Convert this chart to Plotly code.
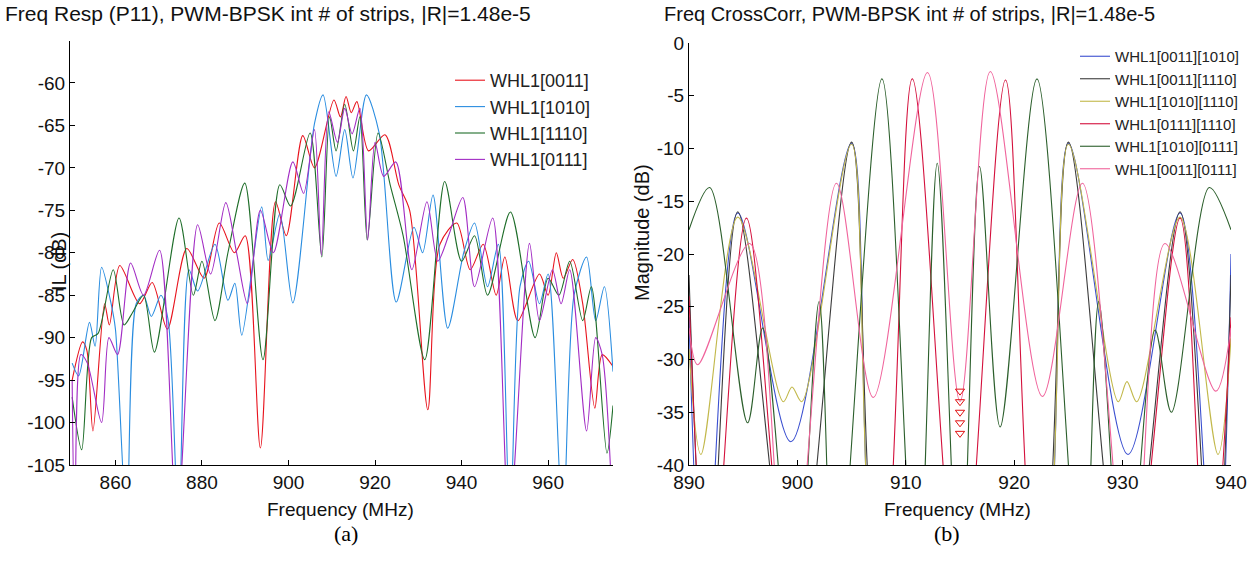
import plotly.graph_objects as go

W, H = 1257, 565

# ---------------- (a) frequency response, dB vs MHz ----------------
red_f = [850, 852.4, 853.4, 854.8, 857.5, 858.6, 861, 865.6, 868.5, 872, 876.5, 880.5, 884, 887.5, 890,
         893.5, 897, 899.5, 903.3, 906, 910.5, 912, 913.3, 914.5, 915.8, 918.5, 922.3, 925.5, 928, 932.2,
         935, 938.9, 942, 945, 948, 950, 953, 958, 960, 961.9, 963.5, 965.7, 968, 970.8, 972.5, 975]
red_db = [-95, -90.5, -91.5, -101, -86, -88.5, -81.5, -86, -83.5, -89, -79.5, -83, -76.5, -80, -78,
          -103, -74, -78, -66.2, -70, -62, -64, -61.6, -63.5, -62.2, -68, -66.1, -72, -75, -98.5,
          -79, -76.5, -82, -79, -85, -80.5, -88, -82.5, -85, -80, -83, -80.8, -86, -98.3, -92, -93.4]

blue_f = [850, 851.5, 854, 855.3, 856.8, 859, 860, 862.6, 864.8, 866.5, 868.3, 870.5, 872.2, 874.6, 877,
          879, 883, 886, 887.6, 889.2, 893.8, 895.3, 898, 901, 906, 908, 911, 913, 914.9, 918, 921,
          924.9, 929, 931, 933.4, 936.8, 940.5, 943, 946, 948.5, 951.2, 953.5, 955.5, 958, 960, 963.4,
          966, 968.9, 971, 973, 975]
blue_db = [-93, -94.5, -88.2, -91, -81.7, -86, -89, -112, -86, -85, -87.5, -85, -88, -112, -82,
           -84.5, -79, -85.6, -83.6, -89.7, -74.6, -80.9, -75.4, -85.9, -64.8, -61.4, -71, -65.5, -71.2, -61.4, -66,
           -85.8, -77, -80, -73.2, -88.9, -80, -76.5, -84, -79, -112, -84, -81, -86, -82.5, -112,
           -85, -80.5, -88, -84, -94]

green_f = [850, 852.2, 854.5, 856, 859.5, 862, 864, 866.5, 869, 874.7, 878, 880, 883, 886, 889.9, 894.1,
           898, 900.5, 905, 907.7, 909.5, 911, 913, 915, 916.5, 918.2, 920.7, 923.5, 926.5, 931.5, 936.1,
           940, 943, 946, 951.3, 957, 960, 962.5, 965, 968, 970, 973.6, 975]
green_db = [-97, -103.2, -90, -89.5, -82, -88.5, -87, -85, -91.7, -75.9, -85, -81, -88, -80, -71.8, -92.6,
            -72, -74.5, -65.9, -80.5, -64, -68, -62.5, -68, -64, -78.5, -65.9, -72, -78, -92.6, -71.6,
            -81, -78, -85, -75.2, -90, -83, -85, -81, -88, -84, -103.6, -98]

purple_f = [850, 850.6, 852, 853.5, 856.8, 858.5, 860.5, 863.5, 866.5, 870.2, 874.2, 879, 882, 885.5, 888,
            890.5, 893.5, 896.5, 901, 903.5, 906, 907.6, 909.3, 911.3, 913, 914.7, 916.5, 918.3, 920, 922,
            924.8, 928.5, 932, 934.5, 937, 940.3, 943, 947.2, 951, 955.7, 958, 961, 963, 965, 968.9, 971,
            972.5, 975]
purple_db = [-95, -112, -92, -93, -100, -90, -92, -81.2, -85, -79.7, -112, -76.7, -82.5, -74.1, -80,
             -86, -75, -80, -69.3, -73, -65.5, -80.3, -63.4, -67, -63, -66, -63, -78.5, -67, -71,
             -69.3, -82, -74, -81, -78, -73.5, -84, -75.9, -112, -78.9, -88, -82, -86, -82, -101, -90,
             -92, -112]

a_names = ["WHL1[0011]", "WHL1[1010]", "WHL1[1110]", "WHL1[0111]"]
a_cols = ["#e8141e", "#2a8de0", "#1f6e2a", "#a22cc4"]
a_ticks = [-105, -100, -95, -90, -85, -80, -75, -70, -65, -60]
a_xticks = [860, 880, 900, 920, 940, 960]

# ---------------- (b) cross-correlation ----------------
b1_f = [890, 891.4, 894.5, 899.4, 905.0, 908.0, 915.0, 922.0, 925.0, 930.5, 935.3, 938.6, 940]
b1_db = [-26, -55, -16.1, -37.8, -9.5, -55, -42, -55, -9.5, -39, -16.1, -55, -20]

b2_f = [890, 891.7, 894.5, 899.7, 905.0, 908.3, 915.0, 921.7, 925.0, 930.3, 935.3, 938.4, 940]
b2_db = [-22, -55, -16.0, -55, -9.4, -55, -42, -55, -9.4, -55, -16.0, -55, -22]

b3_f = [890, 891.1, 894.5, 898.7, 899.5, 900.4, 905.0, 908.2, 915.0, 921.8, 925.0, 929.6, 930.4, 931.3,
        935.3, 938.8, 940]
b3_db = [-29, -39, -16.5, -34, -32.6, -34, -9.6, -55, -45, -55, -9.6, -34, -32.1, -34, -16.5, -39, -28]

b4_f = [890, 891.9, 895.3, 899.6, 903.0, 907.3, 910.6, 915.0, 919.2, 922.6, 927.0, 930.4, 935.3, 937.9, 940]
b4_db = [-24, -55, -16.6, -55, -42, -55, -3.4, -55, -3.5, -55, -42, -55, -16.6, -55, -26]

b5_f = [890, 891.9, 895.4, 896.8, 899.8, 902.0, 903.5, 907.8, 911.0, 912.9, 915.0, 916.8, 918.7, 922.1,
        926.3, 927.8, 930.2, 933.0, 934.5, 938.0, 940]
b5_db = [-17.7, -13.7, -36, -27, -55, -24.5, -55, -3.4, -55, -11.4, -55, -11.7, -36.4, -3.4,
         -55, -24.5, -55, -27.2, -35, -13.7, -17.7]

b6_f = [890, 890.8, 895.6, 899.2, 903.6, 907.0, 912.0, 915.0, 917.8, 922.6, 926.3, 930.8, 933.9, 938.6, 940]
b6_db = [-27, -30.5, -19, -55, -13.3, -33.6, -2.8, -34, -2.7, -33.5, -13.3, -55, -19, -33, -27]

mark_f = [915, 915, 915, 915, 915]
mark_db = [-33, -34, -35, -36, -37]

b_names = ["WHL1[0011][1010]", "WHL1[0011][1110]", "WHL1[1010][1110]",
           "WHL1[0111][1110]", "WHL1[1010][0111]", "WHL1[0011][0111]"]
b_cols = ["#3a4fd0", "#3c3c3c", "#c2b84a", "#d4103c", "#2c5f2c", "#f0649c"]
b_ticks = [-40, -35, -30, -25, -20, -15, -10, -5, 0]
b_xticks = [890, 900, 910, 920, 930, 940]

fig = go.Figure()

for f, d, n, c in zip([red_f, blue_f, green_f, purple_f], [red_db, blue_db, green_db, purple_db], a_names, a_cols):
    fig.add_trace(go.Scatter(x=f, y=d, name=n, mode="lines", line=dict(color=c, width=1.1, shape="spline", smoothing=0.8),
                             xaxis="x", yaxis="y", legend="legend"))

b_f = [b1_f, b2_f, b3_f, b4_f, b5_f, b6_f]
b_db = [b1_db, b2_db, b3_db, b4_db, b5_db, b6_db]
for f, d, n, c in zip(b_f, b_db, b_names, b_cols):
    fig.add_trace(go.Scatter(x=f, y=d, name=n, mode="lines", line=dict(color=c, width=1.1, shape="spline", smoothing=0.9),
                             xaxis="x2", yaxis="y2", legend="legend2"))
fig.add_trace(go.Scatter(x=mark_f, y=mark_db, mode="markers", showlegend=False,
                         marker=dict(symbol="triangle-down-open", color="#e01010", size=8),
                         xaxis="x2", yaxis="y2"))

font = "Liberation Sans, Arial, sans-serif"
ax = dict(showline=True, linecolor="black", linewidth=1, ticks="inside", ticklen=5, tickcolor="black",
          showgrid=False, zeroline=False, mirror=False, automargin=False,
          tickfont=dict(family=font, size=19, color="#111"))

def px_x(p):
    return p / W

def px_y(p):
    return 1 - p / H

fig.update_layout(
    width=W, height=H, margin=dict(l=0, r=0, t=0, b=0, autoexpand=False),
    paper_bgcolor="white", plot_bgcolor="white",
    xaxis=dict(ax, domain=[px_x(70), px_x(613)], range=[849.5, 975], tickvals=a_xticks,
               ticktext=[str(v) for v in a_xticks], anchor="y"),
    yaxis=dict(ax, domain=[px_y(465), px_y(40.5)], range=[-105, -55], tickvals=a_ticks,
               ticktext=[str(v) for v in a_ticks], anchor="x"),
    xaxis2=dict(ax, domain=[px_x(689), px_x(1231)], range=[890, 940], tickvals=b_xticks,
                ticktext=[str(v) for v in b_xticks], anchor="y2"),
    yaxis2=dict(ax, domain=[px_y(465), px_y(43)], range=[-40, 0], tickvals=b_ticks,
                ticktext=[str(v) for v in b_ticks], anchor="x2"),
    legend=dict(x=px_x(450), y=px_y(62), xanchor="left", yanchor="top", bgcolor="rgba(0,0,0,0)",
                font=dict(family=font, size=18, color="#222"), tracegroupgap=0),
    legend2=dict(x=px_x(1075), y=px_y(40), xanchor="left", yanchor="top", bgcolor="rgba(0,0,0,0)",
                 font=dict(family=font, size=15, color="#222"), tracegroupgap=0),
    showlegend=True,
)

ann = [
    dict(text="Freq Resp (P11), PWM-BPSK int # of strips, |R|=1.48e-5", x=px_x(3), y=px_y(14),
         xanchor="left", yanchor="middle", size=21),
    dict(text="Freq CrossCorr, PWM-BPSK int # of strips, |R|=1.48e-5", x=px_x(662), y=px_y(14),
         xanchor="left", yanchor="middle", size=20),
    dict(text="Frequency (MHz)", x=px_x(340), y=px_y(509), xanchor="center", yanchor="middle", size=19),
    dict(text="Frequency (MHz)", x=px_x(958), y=px_y(509), xanchor="center", yanchor="middle", size=19),
]
for a in ann:
    fig.add_annotation(text=a["text"], x=a["x"], y=a["y"], xref="paper", yref="paper", showarrow=False,
                       xanchor=a["xanchor"], yanchor=a["yanchor"], font=dict(family=font, size=a["size"], color="#111"))

fig.add_annotation(text="IL (dB)", x=px_x(46), y=px_y(262), xref="paper", yref="paper", showarrow=False,
                   textangle=-90, font=dict(family=font, size=20, color="#111"))
fig.add_annotation(text="Magnitude (dB)", x=px_x(642), y=px_y(232), xref="paper", yref="paper", showarrow=False,
                   textangle=-90, font=dict(family=font, size=20, color="#111"))
for t, xp in [("(a)", 332), ("(b)", 962)]:
    fig.add_annotation(text=t, x=px_x(xp), y=px_y(548), xref="paper", yref="paper", showarrow=False,
                       font=dict(family="Liberation Serif, Times New Roman, serif", size=22, color="black"))

fig.write_html("out.html", config={"displayModeBar": False},
               post_script="document.body.style.margin='0';")
